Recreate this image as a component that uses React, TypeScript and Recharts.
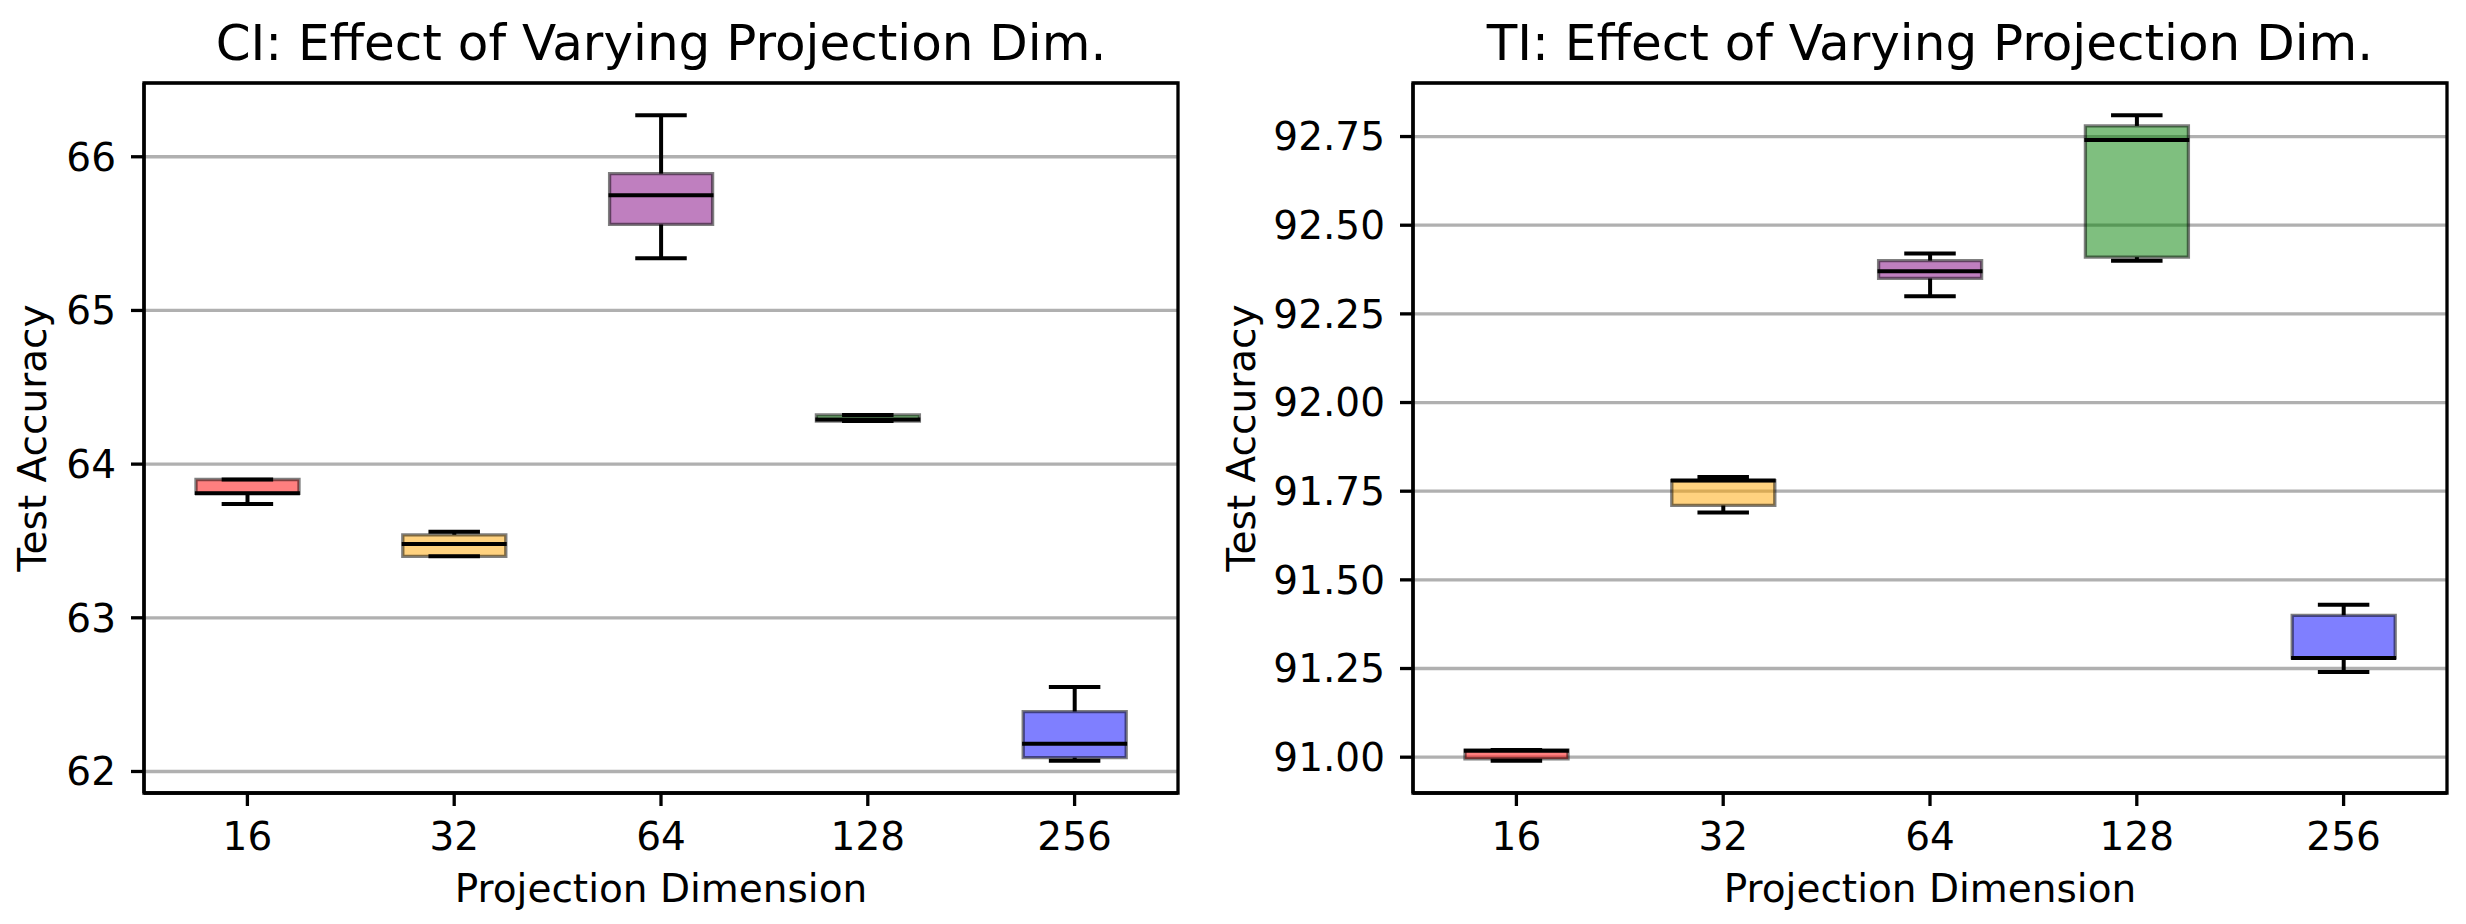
import React from "react";
import { Bar, Cell, ComposedChart, CartesianGrid, ReferenceArea, Scatter, XAxis, YAxis } from "recharts";

// categories and box colours (matplotlib named colours, drawn at alpha 0.5)
const dims = ["16", "32", "64", "128", "256"];
const boxColors = ["#ff0000", "#ffa500", "#800080", "#008000", "#0000ff"];

// CI panel: whisker low, q1, median, q3, whisker high
const ciMin = [63.74, 63.4, 65.34, 64.28, 62.07];
const ciQ1 = [63.81, 63.4, 65.56, 64.28, 62.09];
const ciMed = [63.81, 63.48, 65.75, 64.29, 62.18];
const ciQ3 = [63.9, 63.54, 65.89, 64.32, 62.39];
const ciMax = [63.9, 63.56, 66.27, 64.32, 62.55];
const ciTicks = [62, 63, 64, 65, 66];

// TI panel
const tiMin = [90.99, 91.69, 92.3, 92.4, 91.24];
const tiQ1 = [90.995, 91.71, 92.35, 92.41, 91.28];
const tiMed = [91.018, 91.78, 92.37, 92.74, 91.28];
const tiQ3 = [91.02, 91.78, 92.4, 92.78, 91.4];
const tiMax = [91.02, 91.79, 92.42, 92.81, 91.43];
const tiTicks = [91.0, 91.25, 91.5, 91.75, 92.0, 92.25, 92.5, 92.75];

const FONT = "'DejaVu Sans', sans-serif";
const LW = 3.3;
const BOX_W = 103;

function rows(mins: number[], q1s: number[], meds: number[], q3s: number[], maxs: number[]) {
  return dims.map((label, i) => ({
    label,
    min: mins[i],
    q1: q1s[i],
    med: meds[i],
    q3: q3s[i],
    max: maxs[i],
  }));
}

const ciData = rows(ciMin, ciQ1, ciMed, ciQ3, ciMax);
const tiData = rows(tiMin, tiQ1, tiMed, tiQ3, tiMax);

// vertical whisker stem drawn from a ranged bar
const Stem = (props: any) => {
  const { x, y, width, height } = props;
  if (!height || Math.abs(height) < 0.5) return <g />;
  const cx = x + width / 2;
  const top = Math.min(y, y + height);
  return <line x1={cx} x2={cx} y1={top} y2={top + Math.abs(height)} stroke="#000" strokeWidth={4} />;
};

// horizontal line (caps and median) centred on a scatter point
const hLine = (w: number) => (props: any) => {
  const { cx, cy } = props;
  return <line x1={cx - w / 2} x2={cx + w / 2} y1={cy} y2={cy} stroke="#000" strokeWidth={4} />;
};

interface PanelProps {
  left: number;
  width: number;
  yAxisWidth: number;
  marginRight: number;
  title: string;
  data: ReturnType<typeof rows>;
  domain: [number, number];
  ticks: number[];
  fmt: (v: number) => string;
  labelOffset: number;
}

function BoxPanel({ left, width, yAxisWidth, marginRight, title, data, domain, ticks, fmt, labelOffset }: PanelProps) {
  const txt = { fill: "#000", fontSize: 39, fontFamily: FONT };
  return (
    <div style={{ position: "absolute", left, top: 0, width, height: 924 }}>
      <div
        style={{
          position: "absolute",
          left: yAxisWidth,
          width: width - yAxisWidth - marginRight,
          top: 18,
          textAlign: "center",
          fontSize: 50,
          lineHeight: "50px",
          fontFamily: FONT,
          whiteSpace: "nowrap",
          color: "#000",
        }}
      >
        {title}
      </div>
      <ComposedChart width={width} height={924} data={data} margin={{ top: 83, right: marginRight, bottom: 0, left: 0 }}>
        <CartesianGrid vertical={false} stroke="#b0b0b0" strokeWidth={LW} />
        <XAxis
          dataKey="label"
          interval={0}
          height={131}
          tickSize={13}
          tickMargin={16}
          tick={txt}
          tickLine={{ stroke: "#000", strokeWidth: LW }}
          axisLine={{ stroke: "#000", strokeWidth: LW }}
          label={{ value: "Projection Dimension", position: "insideBottom", offset: 22, ...txt }}
        />
        <XAxis xAxisId="up" dataKey="label" hide />
        <XAxis xAxisId="low" dataKey="label" hide />
        <YAxis
          type="number"
          domain={domain}
          ticks={ticks}
          interval={0}
          allowDataOverflow
          width={yAxisWidth}
          tickSize={13}
          tickMargin={15}
          tickFormatter={fmt}
          tick={txt}
          tickLine={{ stroke: "#000", strokeWidth: LW }}
          axisLine={{ stroke: "#000", strokeWidth: LW }}
          label={{
            value: "Test Accuracy",
            angle: -90,
            position: "insideLeft",
            offset: labelOffset,
            style: { textAnchor: "middle" },
            ...txt,
          }}
        />
        <ReferenceArea y1={domain[0]} y2={domain[1]} fill="none" stroke="#000" strokeWidth={LW} ifOverflow="visible" />
        <Bar xAxisId="up" dataKey={(d: any) => [d.q3, d.max]} barSize={BOX_W} shape={Stem} isAnimationActive={false} />
        <Bar xAxisId="low" dataKey={(d: any) => [d.min, d.q1]} barSize={BOX_W} shape={Stem} isAnimationActive={false} />
        <Bar
          dataKey={(d: any) => [d.q1, d.q3]}
          barSize={BOX_W}
          fillOpacity={0.5}
          stroke="#000"
          strokeOpacity={0.5}
          strokeWidth={LW}
          isAnimationActive={false}
        >
          {data.map((d, i) => (
            <Cell key={d.label} fill={boxColors[i]} />
          ))}
        </Bar>
        <Scatter dataKey="max" shape={hLine(BOX_W / 2)} isAnimationActive={false} />
        <Scatter dataKey="min" shape={hLine(BOX_W / 2)} isAnimationActive={false} />
        <Scatter dataKey="med" shape={hLine(BOX_W + 2)} isAnimationActive={false} />
      </ComposedChart>
    </div>
  );
}

export default function App() {
  return (
    <div style={{ position: "absolute", left: 0, top: 0, width: 2466, height: 924, background: "#fff" }}>
      <BoxPanel
        left={0}
        width={1213}
        yAxisWidth={144}
        marginRight={35}
        title="CI: Effect of Varying Projection Dim."
        data={ciData}
        domain={[61.86, 66.48]}
        ticks={ciTicks}
        fmt={(v) => String(v)}
        labelOffset={32}
      />
      <BoxPanel
        left={1213}
        width={1253}
        yAxisWidth={200}
        marginRight={19}
        title="TI: Effect of Varying Projection Dim."
        data={tiData}
        domain={[90.899, 92.901]}
        ticks={tiTicks}
        fmt={(v) => v.toFixed(2)}
        labelOffset={28}
      />
    </div>
  );
}
